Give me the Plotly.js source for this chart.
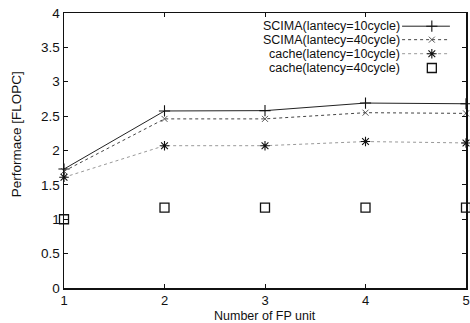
<!DOCTYPE html>
<html><head><meta charset="utf-8">
<script src="https://cdn.plot.ly/plotly-3.0.1.min.js"></script>
<style>html,body{margin:0;padding:0;background:#fff}#c{width:470px;height:323px}</style>
</head><body><div id="c"></div>
<script>
const fpUnits = [1, 2, 3, 4, 5];
const scima10 = [1.73, 2.575, 2.58, 2.69, 2.68];
const scima40 = [1.70, 2.46, 2.46, 2.55, 2.54];
const cache10 = [1.61, 2.07, 2.07, 2.13, 2.11];
const cache40 = [1.00, 1.17, 1.17, 1.17, 1.17];
const seriesNames = ["SCIMA(lantecy=10cycle)", "SCIMA(lantecy=40cycle)", "cache(latency=10cycle)", "cache(latency=40cycle)"];
const xTitle = 'Number of FP unit';
const yTitle = 'Performace [FLOPC]';
const xTicks = [1, 2, 3, 4, 5];
const yTicks = [0, 0.5, 1, 1.5, 2, 2.5, 3, 3.5, 4];
const yTickText = ["0", "0.5", "1", "1.5", "2", "2.5", "3", "3.5", "4"];

const FONT = 'Liberation Sans, Arial, sans-serif';
const styles = [
  {mode:'lines+markers', line:{color:'#222', width:1}, marker:{symbol:'cross-thin-open', size:8, color:'#111', line:{width:1.1, color:'#111'}}},
  {mode:'lines+markers', line:{color:'#444', width:1, dash:'dot'}, marker:{symbol:'x-thin-open', size:6, color:'#444', line:{width:0.9, color:'#444'}}},
  {mode:'lines+markers', line:{color:'#999', width:1, dash:'dot'}, marker:{symbol:'asterisk-open', size:8, color:'#111', line:{width:1.1, color:'#111'}}},
  {mode:'markers', marker:{symbol:'square-open', size:9, color:'#111', line:{width:1.3, color:'#111'}}}
];
const data = [scima10, scima40, cache10, cache40];
const traces = data.map((ys, i) => Object.assign({x: fpUnits, y: ys, name: seriesNames[i], showlegend:false, cliponaxis:false}, styles[i]));

// custom legend (text on left, sample on right) drawn on an overlay axis spanning the plot area
const legRowsY = [0.952, 0.903, 0.852, 0.800];
const sampleX0 = 0.841, sampleX1 = 0.960, sampleMark = 0.915;
const annotations = [];
seriesNames.forEach((n, i) => {
  const st = styles[i];
  if (st.mode.indexOf('lines') >= 0) {
    traces.push({x:[sampleX0, sampleX1], y:[legRowsY[i], legRowsY[i]], xaxis:'x2', yaxis:'y2', mode:'lines', line:st.line, showlegend:false, hoverinfo:'skip'});
  }
  traces.push({x:[sampleMark], y:[legRowsY[i]], xaxis:'x2', yaxis:'y2', mode:'markers', marker:st.marker, showlegend:false, hoverinfo:'skip'});
  annotations.push({xref:'x2', yref:'y2', x:0.838, y:legRowsY[i], text:n, showarrow:false, xanchor:'right', yanchor:'middle', borderpad:0, font:{family:FONT, size:12.5, color:'#111'}});
});
// axis titles
annotations.push({xref:'paper', yref:'paper', x:0.5, y:-0.1, text:xTitle, showarrow:false, xanchor:'center', yanchor:'middle', borderpad:0, font:{family:FONT, size:12.5, color:'#111'}});
annotations.push({xref:'paper', yref:'paper', x:-0.119, y:0.56, text:yTitle, showarrow:false, textangle:-90, xanchor:'center', yanchor:'middle', borderpad:0, font:{family:FONT, size:13.5, color:'#111'}});

const axCommon = {showgrid:false, zeroline:false, showline:true, linecolor:'#111', linewidth:1.5, mirror:'ticks', ticks:'inside', ticklen:4, tickcolor:'#111', tickwidth:1, tickfont:{family:FONT, size:13.5, color:'#111'}};
const layout = {
  width:470, height:323, margin:{l:64, r:4, t:13, b:35},
  paper_bgcolor:'#fff', plot_bgcolor:'#fff',
  font:{family:FONT, size:13, color:'#111'},
  xaxis: Object.assign({}, axCommon, {range:[1,5], tickvals:xTicks, ticktext:xTicks.map(String), ticklabelstandoff:0, automargin:false, tickfont:{family:FONT, size:13, color:'#111'}}),
  yaxis: Object.assign({}, axCommon, {range:[0,4], tickvals:yTicks, ticktext:yTickText, automargin:false}),
  xaxis2:{overlaying:'x', range:[0,1], visible:false, fixedrange:true},
  yaxis2:{overlaying:'y', range:[0,1], visible:false, fixedrange:true},
  annotations: annotations,
  showlegend:false
};
Plotly.newPlot('c', traces, layout, {displayModeBar:false, staticPlot:true});
</script></body></html>
